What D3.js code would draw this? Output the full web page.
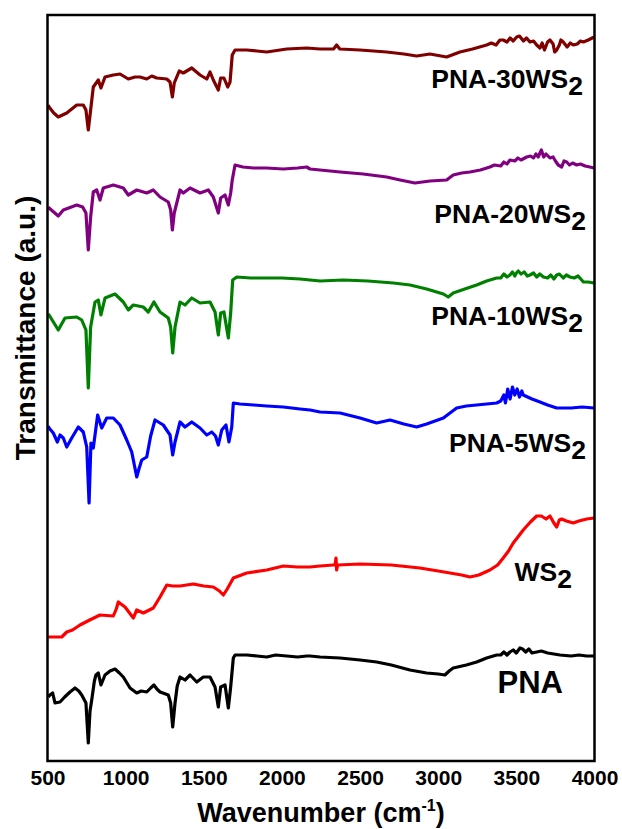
<!DOCTYPE html>
<html>
<head>
<meta charset="utf-8">
<script src="https://cdn.jsdelivr.net/npm/d3@7"></script>
<style>
  html, body { margin: 0; padding: 0; background: #fff; }
  svg { display: block; }
  text { font-family: Arial, "Liberation Sans", sans-serif; font-weight: bold; fill: #000; }
</style>
</head>
<body>
<svg id="chart" width="622" height="829"></svg>
<script>
// FTIR spectra, [wavenumber (cm-1), transmittance (a.u., stacked offset)]
const pna = [
  [505,64],[515,66],[533,68],[548,58],[580,59],[610,64],[644,69],[676,73],[700,70],[719,66],[746,58],[761,18],[772,50],[783,61],
  [800,80],[810,86],[825,88],[842,76],[868,86],[900,90],[932,92],[960,88],[985,84],[1028,73],[1071,68],[1100,70],[1135,69],
  [1160,73],[1181,76],[1200,72],[1220,69],[1273,66],[1288,58],[1301,34],[1316,58],[1330,75],[1348,84],[1380,81],[1412,86],
  [1455,79],[1497,84],[1540,84],[1572,74],[1593,54],[1608,74],[1636,76],[1657,53],[1672,74],[1689,103],[1700,106],[1775,106],
  [1840,105],[1903,104],[1960,106],[2031,105],[2100,104],[2158,105],[2180,105],[2244,104],[2372,103],[2500,101],[2606,99],
  [2700,96],[2819,91],[2926,88],[3000,87],[3043,86],[3070,90],[3096,93],[3180,96],[3246,99],[3310,103],[3374,106],[3400,106],
  [3420,109],[3440,106],[3459,109],[3480,111],[3500,108],[3523,113],[3540,112],[3560,109],[3580,112],[3600,108],[3630,109],
  [3660,110],[3700,108],[3740,107],[3779,106],[3850,105],[3900,106],[3950,105],[3998,105]
];
const ws2 = [
  [505,124],[510,124],[591,124],[623,129],[660,131],[708,136],[770,141],[836,146],[921,145],[940,152],[953,159],[970,157],
  [996,154],[1030,147],[1049,143],[1071,151],[1113,148],[1177,153],[1220,164],[1263,176],[1300,175],[1348,175],[1390,176],
  [1433,177],[1500,175],[1561,174],[1600,170],[1625,166],[1650,172],[1689,183],[1775,188],[1903,191],[2009,195],[2100,194],
  [2180,194],[2244,195],[2329,196],[2340,196],[2346,203],[2350,191],[2356,196],[2500,197],[2700,196],[2883,193],[3000,190],
  [3075,188],[3150,186],[3203,184],[3260,186],[3331,191],[3380,196],[3416,203],[3450,210],[3480,218],[3510,224],[3544,231],
  [3590,239],[3630,245],[3660,245],[3690,242],[3715,245],[3740,238],[3758,234],[3775,241],[3790,242],[3820,240],[3864,238],
  [3900,240],[3950,242],[3998,243]
];
const pna5 = [
  [505,335],[510,333],[537,328],[563,319],[580,326],[601,323],[623,314],[655,323],[697,334],[729,329],[751,314],[766,258],
  [778,318],[793,313],[821,346],[847,333],[879,343],[921,343],[964,336],[1007,321],[1039,309],[1071,284],[1085,292],[1103,301],
  [1135,304],[1160,325],[1188,341],[1241,336],[1284,326],[1301,306],[1316,319],[1348,339],[1380,334],[1423,339],[1476,333],
  [1519,326],[1551,329],[1575,325],[1593,316],[1615,331],[1642,336],[1661,319],[1679,334],[1689,358],[1732,357],[1820,356],
  [1903,355],[2009,354],[2116,352],[2180,351],[2244,349],[2372,348],[2500,343],[2606,338],[2692,341],[2780,337],[2862,334],
  [2926,337],[3033,343],[3118,353],[3180,355],[3246,356],[3310,357],[3374,358],[3400,360],[3420,366],[3430,358],[3445,372],
  [3460,362],[3475,374],[3490,366],[3505,372],[3520,364],[3535,370],[3544,366],[3600,362],[3651,359],[3700,356],[3758,353],
  [3850,353],[3920,354],[3998,353]
];
const pna10 = [
  [505,447],[510,446],[569,431],[612,443],[687,444],[719,441],[746,431],[761,373],[776,434],[804,459],[825,461],[842,446],
  [868,463],[900,465],[932,467],[985,459],[1017,451],[1049,456],[1113,454],[1145,449],[1181,459],[1220,449],[1273,443],
  [1288,434],[1301,408],[1316,434],[1348,459],[1380,456],[1423,463],[1476,458],[1540,459],[1572,449],[1593,426],[1608,448],
  [1629,449],[1657,423],[1672,448],[1685,481],[1711,484],[1800,483],[1903,483],[2000,483],[2116,482],[2180,481],[2244,480],
  [2393,481],[2550,480],[2713,478],[2820,476],[2926,472],[3033,467],[3064,464],[3096,468],[3170,472],[3246,476],[3310,480],
  [3374,483],[3400,483],[3420,487],[3440,484],[3459,486],[3475,489],[3490,485],[3500,488],[3512,490],[3530,487],[3550,489],
  [3570,485],[3587,486],[3610,488],[3630,484],[3650,487],[3673,484],[3700,483],[3720,486],[3740,482],[3758,486],[3775,487],
  [3800,483],[3820,486],[3843,484],[3870,483],[3895,485],[3929,479],[3960,479],[3998,478]
];
const pna20 = [
  [505,554],[510,553],[569,545],[601,551],[687,556],[725,554],[746,548],[761,511],[776,544],[793,569],[815,571],[836,561],
  [857,573],[921,576],[985,573],[1017,566],[1071,571],[1135,568],[1177,571],[1220,564],[1273,559],[1288,551],[1299,531],
  [1311,548],[1348,571],[1369,568],[1412,573],[1476,568],[1529,571],[1561,564],[1593,548],[1608,563],[1636,566],[1657,556],
  [1672,568],[1682,581],[1700,596],[1750,594],[1817,593],[1900,593],[2009,592],[2100,593],[2158,594],[2180,592],[2244,591],
  [2372,589],[2520,587],[2670,584],[2756,581],[2851,578],[2947,580],[3054,581],[3096,586],[3150,588],[3203,589],[3270,591],
  [3331,594],[3360,596],[3400,595],[3420,599],[3440,597],[3459,601],[3490,600],[3510,603],[3530,601],[3566,604],[3590,605],
  [3610,603],[3625,607],[3640,604],[3651,608],[3660,611],[3675,604],[3690,607],[3715,603],[3735,604],[3750,600],[3768,596],
  [3790,594],[3805,600],[3822,599],[3840,596],[3860,598],[3886,596],[3910,597],[3940,595],[3970,594],[3998,593]
];
const pna30 = [
  [505,656],[510,654],[540,648],[569,644],[623,648],[687,656],[729,656],[746,651],[761,631],[776,651],[793,674],[825,681],
  [842,673],[868,684],[921,686],[964,687],[1017,682],[1060,684],[1092,684],[1135,682],[1167,685],[1199,683],[1263,682],
  [1284,679],[1299,664],[1311,678],[1343,690],[1369,688],[1423,693],[1476,686],[1519,682],[1540,689],[1561,681],[1593,671],
  [1608,683],[1629,683],[1653,674],[1668,679],[1682,706],[1700,711],[1775,711],[1840,710],[1903,709],[2031,712],[2158,713],
  [2244,712],[2330,712],[2350,716],[2370,712],[2500,711],[2670,709],[2780,707],[2862,705],[2947,707],[3054,704],[3139,709],
  [3220,712],[3310,716],[3340,718],[3370,716],[3395,721],[3416,721],[3440,719],[3460,723],[3480,720],[3502,724],[3520,725],
  [3545,720],[3565,723],[3587,719],[3610,720],[3630,716],[3651,713],[3665,718],[3680,711],[3700,719],[3715,721],[3735,717],
  [3745,709],[3758,711],[3775,716],[3785,721],[3800,719],[3825,714],[3845,718],[3864,716],[3890,717],[3910,720],[3929,719],
  [3960,721],[3998,724]
];

const seriesNames = ["PNA", "WS2", "PNA-5WS2", "PNA-10WS2", "PNA-20WS2", "PNA-30WS2"];
const seriesData = [pna, ws2, pna5, pna10, pna20, pna30];
const xTicks = [500, 1000, 1500, 2000, 2500, 3000, 3500, 4000];

// drawing setup
const colors = ["#000000", "#ff0000", "#0000ff", "#008000", "#800080", "#800000"];
const margin = { left: 47.5, right: 27.5, top: 15, bottom: 68 };
const W = 622, H = 829;

const svg = d3.select("#chart");
const x = d3.scaleLinear().domain([500, 4000]).range([margin.left, W - margin.right]);
const y = d3.scaleLinear().domain([0, 746]).range([H - margin.bottom, margin.top]);

const line = d3.line().x(d => x(d[0])).y(d => y(d[1])).curve(d3.curveLinear);

const plot = svg.append("g");
seriesData.forEach((data, i) => {
  plot.append("path")
    .datum(data)
    .attr("fill", "none")
    .attr("stroke", colors[i])
    .attr("stroke-width", 3.2)
    .attr("stroke-linejoin", "round")
    .attr("d", line);
});

// frame
svg.append("rect")
  .attr("x", x(500)).attr("y", y(746))
  .attr("width", x(4000) - x(500)).attr("height", y(0) - y(746))
  .attr("fill", "none").attr("stroke", "#000").attr("stroke-width", 2.5);

// x axis labels
const xAxis = svg.append("g")
  .attr("transform", `translate(0,${y(0)})`)
  .call(d3.axisBottom(x).tickValues(xTicks).tickSize(0).tickPadding(9).tickFormat(d3.format("d")));
xAxis.select(".domain").remove();
xAxis.selectAll("text")
  .style("font-family", "Arial, 'Liberation Sans', sans-serif")
  .style("font-weight", "bold").style("font-size", "21px").attr("fill", "#000");

// axis titles
const xt = svg.append("text")
  .attr("x", (x(500) + x(4000)) / 2).attr("y", 822)
  .attr("text-anchor", "middle").style("font-size", "27px");
xt.append("tspan").text("Wavenumber (cm");
xt.append("tspan").attr("dy", -11).style("font-size", "16px").text("-1");
xt.append("tspan").attr("dy", 11).text(")");

svg.append("text")
  .attr("transform", "translate(35,328) rotate(-90)")
  .attr("text-anchor", "middle").style("font-size", "28px")
  .text("Transmittance (a.u.)");

// series labels, anchored at their right end
const labelSpots = [
  { w: 3798, t: 68, size: 31 },
  { w: 3856, t: 180, size: 26.5 },
  { w: 3946, t: 309, size: 26.5 },
  { w: 3926, t: 436, size: 26.5 },
  { w: 3946, t: 538, size: 26.5 },
  { w: 3926, t: 673, size: 26.5 }
];
seriesNames.forEach((name, i) => {
  const s = labelSpots[i];
  const t = svg.append("text")
    .attr("x", x(s.w)).attr("y", y(s.t))
    .attr("text-anchor", "end")
    .style("font-size", s.size + "px");
  if (name.endsWith("2")) {
    t.append("tspan").text(name.slice(0, -1));
    t.append("tspan").attr("dy", 7).text("2");
  } else {
    t.text(name);
  }
});
</script>
</body>
</html>
